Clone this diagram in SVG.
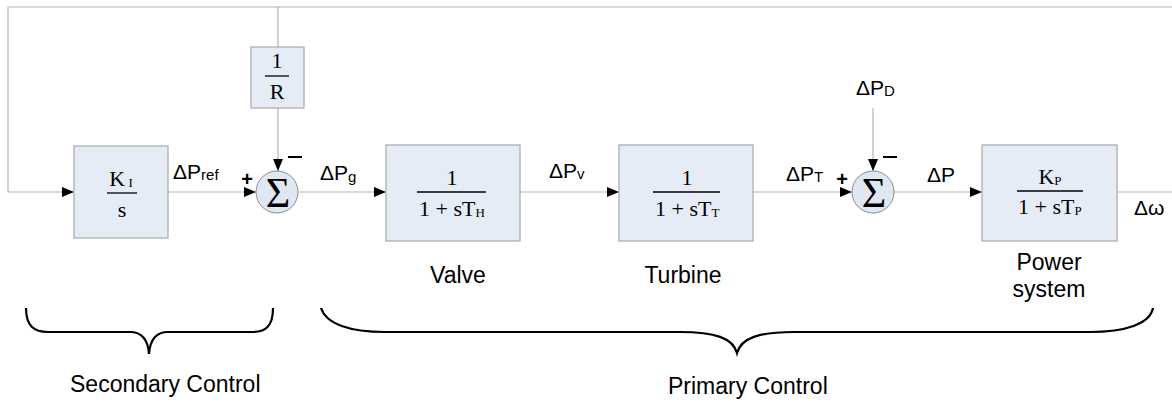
<svg xmlns="http://www.w3.org/2000/svg" width="1172" height="403" viewBox="0 0 1172 403">
  <defs>
    <style>
      .blk { fill: #e6ecf6; stroke: #a9a9a9; stroke-width: 1.2; }
      .sum { fill: #dfe7f3; stroke: #8c8c8c; stroke-width: 1; }
      .wire { fill: none; stroke: #b3b3b3; stroke-width: 1.2; }
      .brace { fill: none; stroke: #000; stroke-width: 2.2; }
      .lbl { font-family: "Liberation Sans", Arial, sans-serif; font-size: 21px; fill: #000; }
      .cap { font-family: "Liberation Sans", Arial, sans-serif; font-size: 23px; fill: #000; }
      .math { font-family: "Liberation Serif", "Times New Roman", serif; font-size: 22px; fill: #000; }
      .sig { font-family: "Liberation Serif", "Times New Roman", serif; font-size: 42px; fill: #000; }
      .bar { stroke: #000; stroke-width: 1.3; }
      .sgn { font-family: "Liberation Sans", Arial, sans-serif; font-size: 20px; font-weight: bold; fill: #000; }
    </style>
    <marker id="arrow" viewBox="0 0 12 10" refX="12" refY="5" markerWidth="12" markerHeight="10" markerUnits="userSpaceOnUse" orient="auto">
      <path d="M0,0 L12,5 L0,10 Z" fill="#000"/>
    </marker>
  </defs>

  <rect width="1172" height="403" fill="#fff"/>

  <!-- signal lines -->
  <g id="connectors">
    <!-- frequency feedback across the top and down the left side -->
    <path class="wire" d="M1172,7 H8 V192 H74" marker-end="url(#arrow)"/>
    <!-- droop branch -->
    <path class="wire" d="M278,7 V47"/>
    <path class="wire" d="M278,108 V171" marker-end="url(#arrow)"/>
    <!-- forward path -->
    <path class="wire" d="M168,192 H256" marker-end="url(#arrow)"/>
    <path class="wire" d="M299,192 H386" marker-end="url(#arrow)"/>
    <path class="wire" d="M520,192 H619" marker-end="url(#arrow)"/>
    <path class="wire" d="M753,192 H852" marker-end="url(#arrow)"/>
    <path class="wire" d="M894,192 H982" marker-end="url(#arrow)"/>
    <path class="wire" d="M1117,192 H1172"/>
    <!-- load disturbance -->
    <path class="wire" d="M873,108 V171" marker-end="url(#arrow)"/>
  </g>

  <!-- integral controller -->
  <g id="integrator">
    <rect class="blk" x="74" y="146" width="94" height="92"/>
    <text class="math" x="121" y="186" text-anchor="middle">K<tspan font-size="13" dy="1"> I</tspan></text>
    <line class="bar" x1="107" y1="193" x2="137" y2="193"/>
    <text class="math" x="122" y="217" text-anchor="middle">s</text>
  </g>

  <!-- droop gain -->
  <g id="droop">
    <rect class="blk" x="251" y="47" width="53" height="61"/>
    <text class="math" x="277" y="68" text-anchor="middle">1</text>
    <line class="bar" x1="265" y1="76" x2="289" y2="76"/>
    <text class="math" x="277" y="99" text-anchor="middle">R</text>
  </g>

  <!-- first summing junction -->
  <g id="sum1">
    <circle class="sum" cx="277" cy="192" r="21"/>
    <text class="sig" x="278" y="207" text-anchor="middle">Σ</text>
    <text class="sgn" x="247" y="186" text-anchor="middle">+</text>
    <line x1="288" y1="157" x2="302" y2="157" stroke="#000" stroke-width="2"/>
  </g>

  <!-- governor valve -->
  <g id="valve">
    <rect class="blk" x="386" y="145" width="134" height="96"/>
    <text class="math" x="452" y="185" text-anchor="middle">1</text>
    <line class="bar" x1="417" y1="192" x2="486" y2="192"/>
    <text class="math" x="419" y="216">1 + sT<tspan font-size="13" dy="1">H</tspan></text>
    <text class="cap" x="458" y="283" text-anchor="middle">Valve</text>
  </g>

  <!-- turbine -->
  <g id="turbine">
    <rect class="blk" x="619" y="145" width="134" height="96"/>
    <text class="math" x="687" y="185" text-anchor="middle">1</text>
    <line class="bar" x1="653" y1="192" x2="720" y2="192"/>
    <text class="math" x="655" y="216">1 + sT<tspan font-size="13" dy="1">T</tspan></text>
    <text class="cap" x="683" y="283" text-anchor="middle">Turbine</text>
  </g>

  <!-- second summing junction -->
  <g id="sum2">
    <circle class="sum" cx="873" cy="192" r="21"/>
    <text class="sig" x="874" y="207" text-anchor="middle">Σ</text>
    <text class="sgn" x="842" y="186" text-anchor="middle">+</text>
    <line x1="883" y1="157" x2="897" y2="157" stroke="#000" stroke-width="2"/>
  </g>

  <!-- power system -->
  <g id="power-system">
    <rect class="blk" x="982" y="145" width="135" height="96"/>
    <text class="math" x="1050" y="184" text-anchor="middle">K<tspan font-size="13" dy="1">P</tspan></text>
    <line class="bar" x1="1017" y1="191" x2="1083" y2="191"/>
    <text class="math" x="1018" y="214">1 + sT<tspan font-size="13" dy="1">P</tspan></text>
    <text class="cap" x="1049" y="270" text-anchor="middle">Power</text>
    <text class="cap" x="1049" y="297" text-anchor="middle">system</text>
  </g>

  <!-- signal names -->
  <g id="signal-labels">
    <text class="lbl" x="173" y="179">ΔP<tspan font-size="15" dy="1">ref</tspan></text>
    <text class="lbl" x="320" y="180">ΔP<tspan font-size="15" dy="2">g</tspan></text>
    <text class="lbl" x="549" y="178">ΔP<tspan font-size="15" dy="1">v</tspan></text>
    <text class="lbl" x="786" y="181">ΔP<tspan font-size="15" dy="1">T</tspan></text>
    <text class="lbl" x="856" y="95">ΔP<tspan font-size="15" dy="1">D</tspan></text>
    <text class="lbl" x="927" y="182">ΔP</text>
    <text class="lbl" x="1134" y="215">Δω</text>
  </g>

  <!-- grouping braces -->
  <g id="secondary-group">
    <path class="brace" d="M26,308 C26,326 34,332 48,332 H130 C142,332 148,340 149,354 C150,340 156,332 168,332 H252 C266,332 273,326 273,308"/>
    <text class="cap" x="70" y="392">Secondary Control</text>
  </g>
  <g id="primary-group">
    <path class="brace" d="M321,308 C326,324 350,332 385,332 H680 C715,332 733,338 737,353 C741,338 759,332 794,332 H1090 C1125,332 1150,324 1153,308"/>
    <text class="cap" x="668" y="394">Primary Control</text>
  </g>
</svg>
